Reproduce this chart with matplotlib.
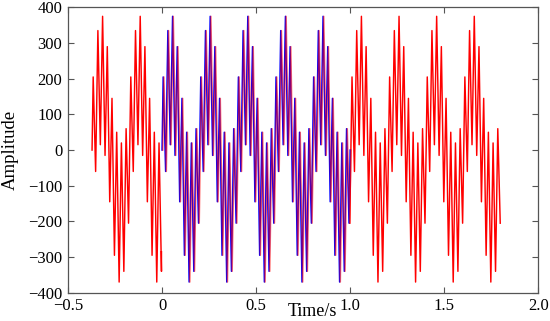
import matplotlib
matplotlib.use("Agg")
import matplotlib.pyplot as plt

# One period (0.2 s) of the waveform, read off the picture as its turning points:
# offset inside the period [s] and amplitude
wave_dt = [0.000, 0.006, 0.019, 0.031, 0.044, 0.056, 0.069, 0.081, 0.094,
           0.106, 0.119, 0.131, 0.144, 0.156, 0.169, 0.181, 0.194]
wave_val = [0, 205, -60, 335, 15, 375, -15, 290, -145,
            145, -295, 50, -370, 20, -340, 60, -205]

# Period start times
red_a_starts = [-0.372, -0.172]
red_a_end = (-0.003, -285)
red_b_starts = [0.004, 0.204, 0.404, 0.604, 0.804, 1.004, 1.204, 1.404, 1.604]
red_b_end = 1.800
blue_starts = [0.000, 0.200, 0.400, 0.600, 0.800]
blue_end = (1.000, 0)
overlap_end = 1.0

x_ticks = [-0.5, 0, 0.5, 1.0, 1.5, 2.0]
x_ticklabels = ["\u22120.5", "0", "0.5", "1.0", "1.5", "2.0"]
y_ticks = [-400, -300, -200, -100, 0, 100, 200, 300, 400]
y_ticklabels = ["\u2212400", "\u2212300", "\u2212200", "\u2212100", "0", "100", "200", "300", "400"]


def build(starts, t_max, end=None):
    t, v = [], []
    for s in starts:
        for dt, val in zip(wave_dt, wave_val):
            if s + dt <= t_max + 1e-9:
                t.append(s + dt)
                v.append(val)
    if end is not None:
        t.append(end[0])
        v.append(end[1])
    return t, v


ta, va = build(red_a_starts, red_a_end[0], red_a_end)
tb, vb = build(red_b_starts, red_b_end)
tc, vc = build(blue_starts, blue_end[0], blue_end)

# split red B into the part lying under the blue trace and the part after it
k = next(i for i, t in enumerate(tb) if t > overlap_end)
tb1, vb1 = tb[:k + 1], vb[:k + 1]
tb2, vb2 = tb[k - 1:], vb[k - 1:]

plt.rcParams["font.family"] = ["Liberation Serif", "DejaVu Serif"]
fig = plt.figure(figsize=(5.5, 3.21), dpi=100)
ax = fig.add_axes([0.1236, 0.088, 0.855, 0.889])

ax.plot(ta, va, color="#ff0000", lw=1.05, zorder=2)
ax.plot(tb2, vb2, color="#ff0000", lw=1.05, zorder=2)
ax.plot(tc, vc, color="#0000ff", lw=1.05, zorder=3)
ax.plot(tb1, vb1, color="#ff0000", lw=1.05, alpha=0.55, zorder=4)

ax.set_xlim(-0.5, 2.0)
ax.set_ylim(-400, 400)
ax.set_xticks(x_ticks)
ax.set_xticklabels(x_ticklabels)
ax.set_yticks(y_ticks)
ax.set_yticklabels(y_ticklabels)
ax.tick_params(direction="in", length=4, width=0.8, top=True, right=True,
               labelsize=12, colors="#555555", labelcolor="black", pad=4)
for sp in ax.spines.values():
    sp.set_color("#555555")
    sp.set_linewidth(0.9)

ax.set_xlabel("Time/s", fontsize=13)
ax.xaxis.set_label_coords(0.519, -0.035)
ax.xaxis.label.set_va("top")
ax.set_ylabel("Amplitude", fontsize=13.5)
ax.yaxis.set_label_coords(-0.105, 0.5)

fig.savefig("out.png", dpi=100)
